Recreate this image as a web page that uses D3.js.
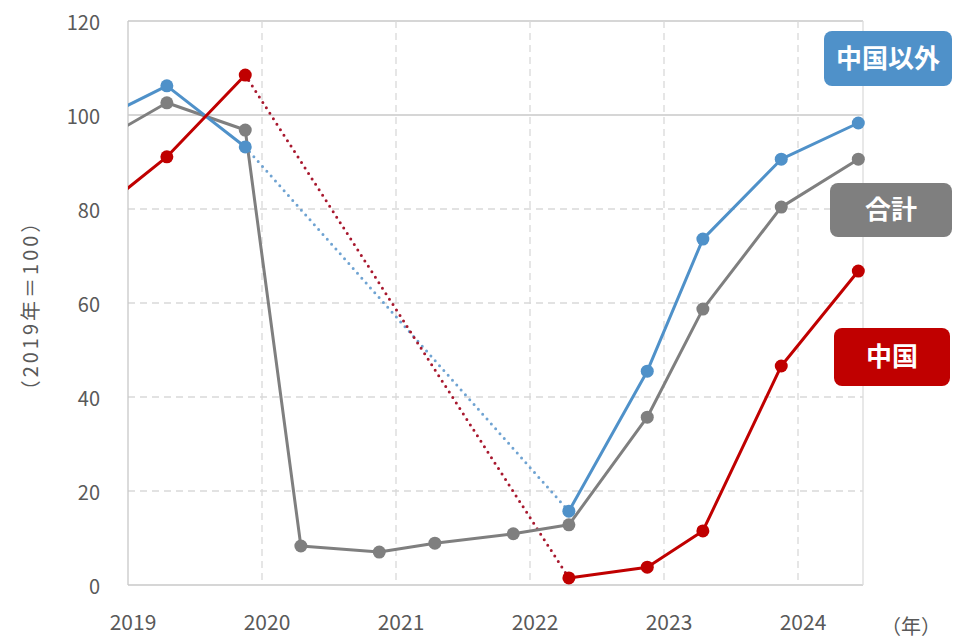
<!DOCTYPE html>
<html>
<head>
<meta charset="utf-8">
<script src="https://cdn.jsdelivr.net/npm/d3@7"></script>
<style>
  body { margin: 0; background: #fff; }
  text { font-family: "Noto Sans CJK JP", "Noto Sans", sans-serif; }
</style>
</head>
<body>
<div id="container"></div>
<script>
// periods as decimal years (first one sits just left of the axis and is clipped)
const periods = [2018.875, 2019.29, 2019.875, 2020.29, 2020.875, 2021.29, 2021.875, 2022.29, 2022.875, 2023.29, 2023.875, 2024.45];
const total   = [95.8, 102.6, 96.8, 8.3, 7.0, 8.9, 10.9, 12.8, 35.7, 58.7, 80.4, 90.6];
const exChina = [100.3, 106.2, 93.2, null, null, null, null, 15.7, 45.5, 73.6, 90.6, 98.3];
const china   = [81.6, 91.1, 108.5, null, null, null, null, 1.5, 3.8, 11.5, 46.6, 66.8];

const yearTicks = [2019, 2020, 2021, 2022, 2023, 2024];
const yTicks = [0, 20, 40, 60, 80, 100, 120];

const seriesNames = ["合計", "中国以外", "中国"];
const seriesColors = ["#7f7f7f", "#4f91c9", "#c00000"];
const dotColors = ["#7f7f7f", "#6fa3d2", "#a8182e"];

const W = 957, H = 642;
const pLeft = 128, pRight = 863, pTop = 21, pBottom = 585;

const svg = d3.select("#container").append("svg")
  .attr("width", W).attr("height", H);

const x = d3.scaleLinear().domain([2019, 2024.485]).range([pLeft, pRight]);
const y = d3.scaleLinear().domain([0, 120]).range([pBottom, pTop]);

svg.append("defs").append("clipPath").attr("id", "plot")
  .append("rect").attr("x", pLeft).attr("y", 0).attr("width", pRight - pLeft + 10).attr("height", H);

// horizontal grid
svg.append("g").selectAll("line").data(yTicks).enter().append("line")
  .attr("x1", pLeft).attr("x2", pRight)
  .attr("y1", d => y(d)).attr("y2", d => y(d))
  .attr("stroke", d => (d === 0 || d === 100 || d === 120) ? "#c8c8c8" : "#d9d9d9")
  .attr("stroke-width", 1.3)
  .attr("stroke-dasharray", d => (d === 0 || d === 100 || d === 120) ? null : "7,5");

// vertical grid
svg.append("g").selectAll("line").data(yearTicks.slice(1)).enter().append("line")
  .attr("x1", d => x(d)).attr("x2", d => x(d))
  .attr("y1", pTop).attr("y2", pBottom)
  .attr("stroke", "#d9d9d9").attr("stroke-width", 1.3)
  .attr("stroke-dasharray", "7,5");

svg.append("line").attr("x1", pLeft).attr("x2", pLeft).attr("y1", pTop).attr("y2", pBottom)
  .attr("stroke", "#c8c8c8").attr("stroke-width", 1.3);
svg.append("line").attr("x1", pRight).attr("x2", pRight).attr("y1", pTop).attr("y2", pBottom)
  .attr("stroke", "#dcdcdc").attr("stroke-width", 1.3);

// y tick labels
svg.append("g").selectAll("text").data(yTicks).enter().append("text")
  .attr("x", 100).attr("y", d => y(d) + 9)
  .attr("text-anchor", "end")
  .attr("font-size", 20).attr("fill", "#595959")
  .text(d => d);

// x tick labels
svg.append("g").selectAll("text").data(yearTicks).enter().append("text")
  .attr("x", d => x(d) + 5).attr("y", 630)
  .attr("text-anchor", "middle")
  .attr("font-size", 21).attr("fill", "#595959")
  .text(d => d);

svg.append("text").attr("x", 911).attr("y", 634)
  .attr("text-anchor", "middle").attr("font-size", 20).attr("fill", "#595959")
  .text("（年）");

svg.append("text")
  .attr("transform", "translate(38,305) rotate(-90)")
  .attr("text-anchor", "middle").attr("font-size", 20).attr("fill", "#595959")
  .attr("letter-spacing", 3)
  .text("（2019年＝100）");

const allSeries = [total, exChina, china];
const plot = svg.append("g").attr("clip-path", "url(#plot)");

const line = d3.line()
  .defined(d => d.v !== null)
  .x(d => x(d.t)).y(d => y(d.v));

function pts(vals) {
  return periods.map((t, i) => ({ t: t, v: vals[i] }));
}

// dotted bridges over gaps
allSeries.forEach((vals, k) => {
  const p = pts(vals);
  for (let i = 0; i < p.length - 1; i++) {
    if (p[i].v !== null && p[i + 1].v === null) {
      let j = i + 1;
      while (j < p.length && p[j].v === null) j++;
      if (j < p.length) {
        plot.append("line")
          .attr("x1", x(p[i].t)).attr("y1", y(p[i].v))
          .attr("x2", x(p[j].t)).attr("y2", y(p[j].v))
          .attr("stroke", dotColors[k]).attr("stroke-width", 3)
          .attr("stroke-linecap", "round")
          .attr("stroke-dasharray", "0,6.5");
      }
    }
  }
});

allSeries.forEach((vals, k) => {
  const p = pts(vals);
  plot.append("path").datum(p)
    .attr("d", line)
    .attr("fill", "none")
    .attr("stroke", seriesColors[k])
    .attr("stroke-width", 3)
    .attr("stroke-linejoin", "round");
  plot.selectAll(null).data(p.filter(d => d.v !== null && d.t >= 2019)).enter().append("circle")
    .attr("cx", d => x(d.t)).attr("cy", d => y(d.v))
    .attr("r", 6.5)
    .attr("fill", seriesColors[k]);
});

// label boxes
const boxes = [
  { name: seriesNames[1], color: seriesColors[1], x: 824, y: 31, w: 128, h: 55 },
  { name: seriesNames[0], color: seriesColors[0], x: 830, y: 183, w: 122, h: 54 },
  { name: seriesNames[2], color: seriesColors[2], x: 834, y: 328, w: 116, h: 58 }
];
const lb = svg.append("g").selectAll("g").data(boxes).enter().append("g");
lb.append("rect")
  .attr("x", d => d.x).attr("y", d => d.y)
  .attr("width", d => d.w).attr("height", d => d.h)
  .attr("rx", 8).attr("fill", d => d.color);
lb.append("text")
  .attr("x", d => d.x + d.w / 2).attr("y", d => d.y + d.h / 2 + 9)
  .attr("text-anchor", "middle")
  .attr("font-size", 26).attr("font-weight", "bold").attr("fill", "#fff")
  .text(d => d.name);
</script>
</body>
</html>
